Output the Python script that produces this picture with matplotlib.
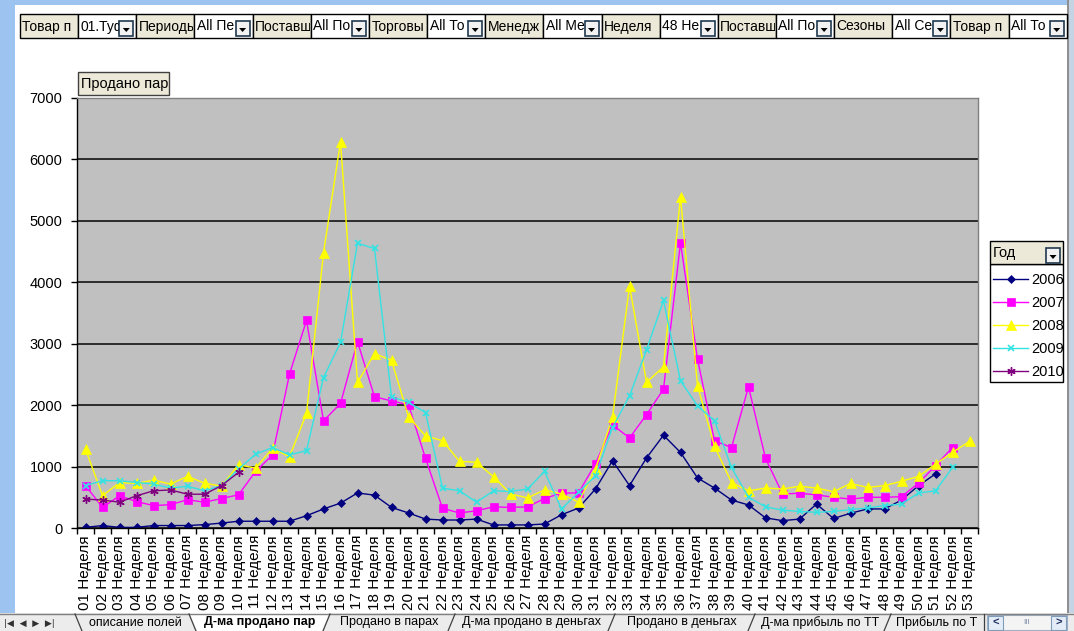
import matplotlib
matplotlib.use('Agg')
import matplotlib.pyplot as plt
from matplotlib.patches import Rectangle, Polygon
from matplotlib.transforms import Bbox, TransformedBbox

plt.rcParams['font.family'] = ['Liberation Sans', 'DejaVu Sans']

# categories
weeks = ['%02d Неделя' % i for i in range(1, 54)]
years = ['2006', '2007', '2008', '2009', '2010']

# pairs sold per week
sales_2006 = [10, 40, 10, 10, 40, 40, 40, 55, 80, 110,
              110, 110, 110, 200, 310, 405, 570, 535, 335, 245,
              145, 130, 130, 145, 50, 50, 50, 65, 215, 325,
              635, 1095, 690, 1140, 1510, 1230, 815, 650, 455, 375,
              165, 120, 145, 390, 155, 240, 310, 310, 455, 690,
              880]
sales_2007 = [690, 335, 525, 430, 365, 380, 460, 420, 480, 540,
              920, 1190, 2505, 3380, 1745, 2027, 3035, 2135, 2070, 2005,
              1135, 320, 245, 280, 345, 335, 345, 480, 570, 570,
              1050, 1680, 1465, 1845, 2260, 4645, 2750, 1420, 1310, 2300,
              1135, 555, 565, 540, 500, 470, 500, 500, 510, 730,
              1015, 1310]
sales_2008 = [1285, 525, 740, 725, 780, 715, 840, 730, 680, 1030,
              975, 1295, 1160, 1865, 4480, 6290, 2370, 2840, 2730, 1810,
              1500, 1420, 1085, 1070, 835, 555, 490, 620, 555, 420,
              960, 1800, 3940, 2370, 2625, 5395, 2315, 1330, 740, 605,
              650, 635, 680, 650, 590, 725, 660, 690, 760, 840,
              1040, 1230, 1410]
sales_2009 = [690, 770, 770, 740, 715, 650, 680, 605, 690, 960,
              1200, 1310, 1190, 1260, 2450, 3020, 4635, 4550, 2135, 2045,
              1880, 650, 605, 420, 605, 595, 635, 920, 310, 580,
              850, 1635, 2150, 2900, 3705, 2395, 1990, 1745, 985, 500,
              345, 290, 270, 255, 270, 300, 325, 365, 390, 570,
              605, 985]
sales_2010 = [470, 455, 420, 525, 605, 620, 550, 550, 690, 905]

series = [sales_2006, sales_2007, sales_2008, sales_2009, sales_2010]

# page fields as they show in their (clipped) buttons
filter_texts = ['Товар п', '01.Туф', 'Периоды', 'All Пе', 'Поставщ',
                'All По', 'Торговы', 'All То', 'Менедж',
                'All Ме', 'Неделя', '48 Не', 'Поставщ', 'All По',
                'Сезоны', 'All Се', 'Товар п', 'All То']
sheet_tabs = ['описание полей', 'Д-ма продано пар', 'Продано в парах',
              'Д-ма продано в деньгах', 'Продано в деньгах', 'Д-ма прибыль по ТТ',
              'Прибыль по Т']

styles = [
    dict(color='#000080', marker='D', ms=4.5, mew=0.5),
    dict(color='#FF00FF', marker='s', ms=6, mew=0.5),
    dict(color='#FFFF00', marker='^', ms=6.5, mew=0.5),
    dict(color='#33E3E3', marker='x', ms=5, mew=1.2),
    dict(color='#800080', marker=(6, 2, 0), ms=6, mew=1),
]

fig = plt.figure(figsize=(10.74, 6.31), dpi=100)

# window chrome drawn in pixel coordinates
bg = fig.add_axes([0, 0, 1, 1], zorder=0)
bg.set_xlim(0, 1074)
bg.set_ylim(631, 0)
bg.axis('off')

blue = '#9DC3F0'
bg.add_patch(Rectangle((0, 0), 1074, 5, fc=blue, ec='none'))
bg.add_patch(Rectangle((0, 0), 15, 613, fc=blue, ec='none'))
bg.add_patch(Rectangle((1068, 0), 6, 613, fc='#C4D4E4', ec='none'))
bg.add_patch(Rectangle((1067, 0), 1.5, 613, fc='#909090', ec='none'))

# page field buttons
step = 58.15
for i, txt in enumerate(filter_texts):
    x0 = 20 + step * i
    is_value = i % 2 == 1
    bg.add_patch(Rectangle((x0, 14), step, 24, fc='white' if is_value else '#ECE9D8',
                           ec='black', lw=1))
    clip_w = step - 17 if is_value else step - 1
    t = bg.text(x0 + 2.5, 26.5, txt, fontsize=10, ha='left', va='center')
    t.set_clip_on(True)
    t.set_clip_path(None)
    t.set_clip_box(TransformedBbox(Bbox([[x0, 14], [x0 + clip_w, 38]]), bg.transData))
    if is_value:
        bx = x0 + step - 17
        bg.add_patch(Rectangle((bx, 21), 14, 15, fc='#F2F2F2', ec='#203850', lw=1.2))
        bg.add_patch(Polygon([(bx + 3.5, 28), (bx + 10.5, 28), (bx + 7, 32)],
                             closed=True, fc='black', ec='none'))

# data field button
bg.add_patch(Rectangle((78, 72), 91, 23, fc='#ECE9D8', ec='#404040', lw=1))
bg.text(81, 84, 'Продано пар', fontsize=10.5, ha='left', va='center')

# legend frame with header
bg.add_patch(Rectangle((990, 264), 73, 118, fc='white', ec='black', lw=1))
bg.add_patch(Rectangle((990, 241), 73, 23, fc='#ECE9D8', ec='black', lw=1))
bg.text(993, 253, 'Год', fontsize=10.5, ha='left', va='center')
bg.add_patch(Rectangle((1046, 248), 14, 15, fc='#F2F2F2', ec='#203850', lw=1.2))
bg.add_patch(Polygon([(1049.5, 255), (1056.5, 255), (1053, 259)], closed=True,
                     fc='black', ec='none'))

# sheet tabs
bg.add_patch(Rectangle((0, 613), 1074, 18, fc='#ECECEC', ec='none'))
bg.plot([0, 1074], [613.5, 613.5], color='#808080', lw=1)
bg.text(4, 623, '|◀  ◀  ▶  ▶|', fontsize=6.5, family='DejaVu Sans',
        ha='left', va='center', color='#303030')
tab_edges = [78, 192, 327, 452, 612, 752, 888, 985]
for i, name in enumerate(sheet_tabs):
    a, b = tab_edges[i], tab_edges[i + 1]
    active = i == 1
    if active:
        bg.add_patch(Polygon([(a - 2, 613), (b + 2, 613), (b - 5, 631), (a + 5, 631)],
                             closed=True, fc='white', ec='none'))
    bg.text((a + b) / 2, 622.5, name, fontsize=9, ha='center', va='center',
            fontweight='bold' if active else 'normal')
for i, x in enumerate(tab_edges[:-1]):
    if i <= 1:
        bg.plot([x - 3, x + 4], [614, 631], color='#404040', lw=0.9)
    else:
        bg.plot([x + 3, x - 4], [614, 631], color='#404040', lw=0.9)
bg.plot([tab_edges[-1] - 1, tab_edges[-1] - 1], [614, 631], color='#404040', lw=0.9)
bg.add_patch(Rectangle((987, 615), 80, 15, fc='#F4F4F4', ec='#A0B0C8', lw=0.8))
bg.add_patch(Rectangle((988, 615.5), 15, 14, fc='#E4ECF8', ec='#7F9DB9', lw=0.8))
bg.add_patch(Rectangle((1051, 615.5), 15, 14, fc='#E4ECF8', ec='#7F9DB9', lw=0.8))
bg.text(995.5, 622.5, '<', fontsize=8, ha='center', va='center', color='#203060',
        fontweight='bold')
bg.text(1058.5, 622.5, '>', fontsize=8, ha='center', va='center', color='#203060',
        fontweight='bold')
bg.text(1027, 622.5, 'III', fontsize=6, ha='center', va='center', color='#8090A8')

# chart
ax = fig.add_axes([77 / 1074, 1 - 528 / 631, (978 - 77) / 1074, (528 - 98) / 631],
                  zorder=1)
ax.set_facecolor('#C0C0C0')
for year, vals, st in zip(years, series, styles):
    ax.plot(range(len(vals)), vals, lw=1, label=year, **st)

ax.set_xlim(-0.5, len(weeks) - 0.5)
ax.set_ylim(0, 7000)
ax.set_yticks(range(0, 7001, 1000))
ax.yaxis.grid(True, color='#202020', lw=1.3)
ax.set_axisbelow(True)

ax.set_xticks(range(len(weeks)))
ax.set_xticklabels(weeks, rotation=90, fontsize=11)
ax.set_xticks([i - 0.5 for i in range(len(weeks) + 1)], minor=True)
ax.tick_params(axis='x', which='major', length=0, pad=5)
ax.tick_params(axis='x', which='minor', length=4, width=1, direction='out')
ax.tick_params(axis='y', length=4, width=1, direction='out', pad=6.5, labelsize=10.5)

for side in ['left', 'bottom']:
    ax.spines[side].set_color('black')
    ax.spines[side].set_linewidth(1)
for side in ['top', 'right']:
    ax.spines[side].set_color('#808080')
    ax.spines[side].set_linewidth(1)

ax.legend(loc='upper left', bbox_to_anchor=(993 / 1074, 1 - 273 / 631),
          bbox_transform=fig.transFigure, frameon=False, fontsize=10.5,
          handlelength=2.4, handletextpad=0.25, labelspacing=0.62,
          borderpad=0, borderaxespad=0)

fig.savefig('out.png', dpi=100)
